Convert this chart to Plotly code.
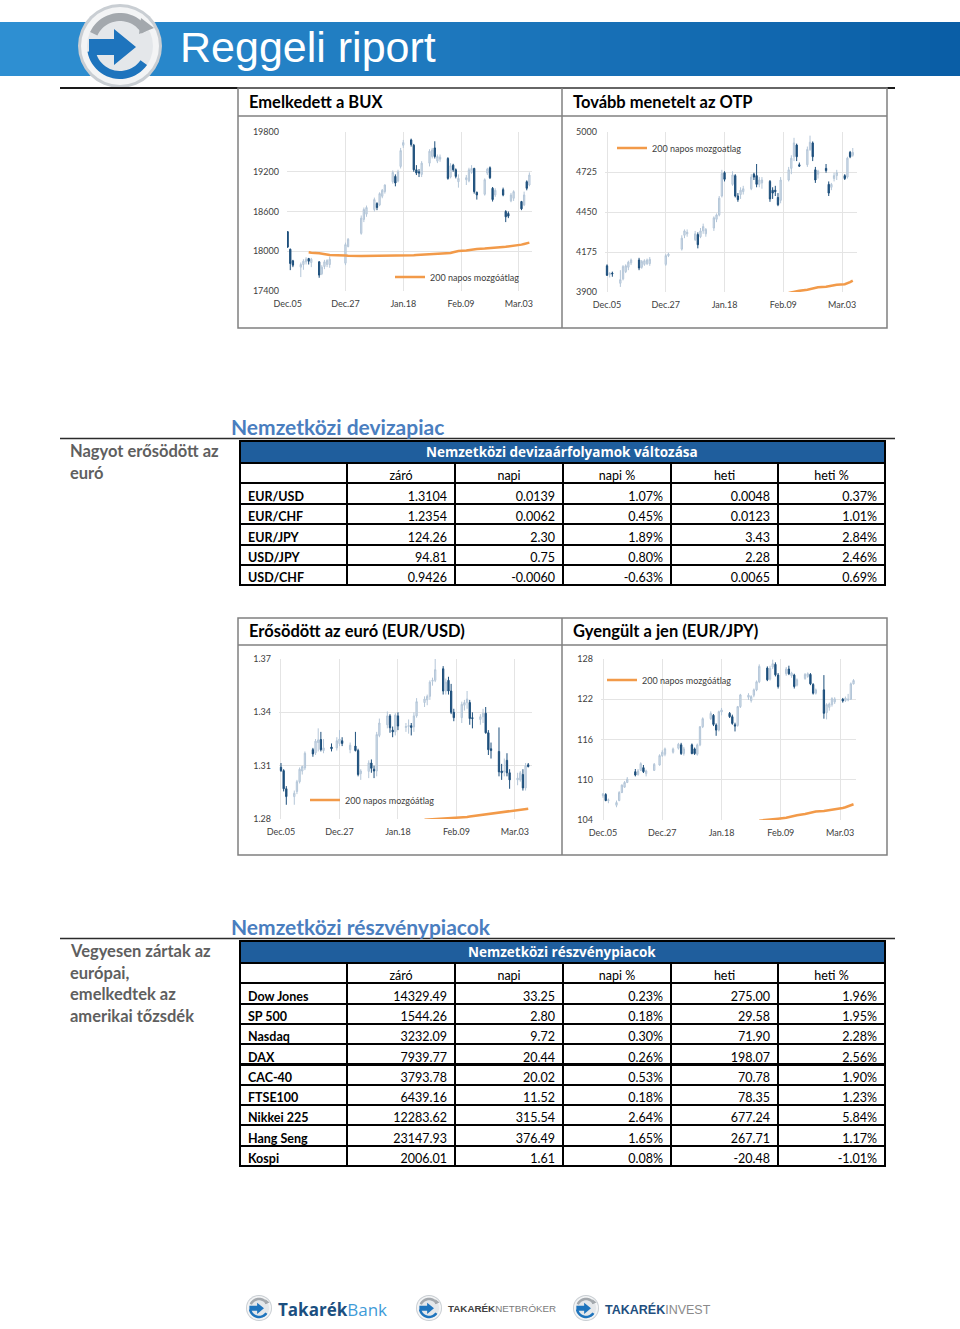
import math
import plotly.graph_objects as go

W, H = 960, 1329
FONT = "Lato, 'Open Sans', sans-serif"

# ---------------- DATA ----------------
BUX_DATES = ['2012-12-05','2012-12-06','2012-12-07','2012-12-10','2012-12-11','2012-12-12','2012-12-13','2012-12-14',
             '2012-12-17','2012-12-18','2012-12-19','2012-12-20','2012-12-21','2012-12-27','2012-12-28',
             '2013-01-02','2013-01-03','2013-01-04','2013-01-07','2013-01-08','2013-01-09','2013-01-10','2013-01-11',
             '2013-01-14','2013-01-15','2013-01-16','2013-01-17','2013-01-18','2013-01-21','2013-01-22','2013-01-23',
             '2013-01-24','2013-01-25','2013-01-28','2013-01-29','2013-01-30','2013-01-31','2013-02-01',
             '2013-02-04','2013-02-05','2013-02-06','2013-02-07','2013-02-08','2013-02-11','2013-02-12','2013-02-13',
             '2013-02-14','2013-02-15','2013-02-18','2013-02-19','2013-02-20','2013-02-21','2013-02-22',
             '2013-02-25','2013-02-26','2013-02-27','2013-02-28','2013-03-01','2013-03-04','2013-03-05','2013-03-06','2013-03-07']

FX_DATES = ['2012-12-05','2012-12-06','2012-12-07','2012-12-10','2012-12-11','2012-12-12','2012-12-13','2012-12-14',
            '2012-12-17','2012-12-18','2012-12-19','2012-12-20','2012-12-21','2012-12-24','2012-12-26','2012-12-27',
            '2012-12-28','2012-12-31',
            '2013-01-02','2013-01-03','2013-01-04','2013-01-07','2013-01-08','2013-01-09','2013-01-10','2013-01-11',
            '2013-01-14','2013-01-15','2013-01-16','2013-01-17','2013-01-18','2013-01-21','2013-01-22','2013-01-23',
            '2013-01-24','2013-01-25','2013-01-28','2013-01-29','2013-01-30','2013-01-31','2013-02-01',
            '2013-02-04','2013-02-05','2013-02-06','2013-02-07','2013-02-08','2013-02-11','2013-02-12','2013-02-13',
            '2013-02-14','2013-02-15','2013-02-18','2013-02-19','2013-02-20','2013-02-21','2013-02-22',
            '2013-02-25','2013-02-26','2013-02-27','2013-02-28','2013-03-01','2013-03-04','2013-03-05','2013-03-06',
            '2013-03-07','2013-03-08']

BUX_OPEN = [18295,18030,17855,17760,17800,17840,17890,17830,17840,17660,17770,17800,17800,17820,18070,
            18270,18480,18560,18630,18720,18700,18830,18900,19050,19130,19060,19280,19600,19680,19600,19230,
            19200,19160,19330,19430,19560,19360,19390,19400,19120,19300,19230,19050,19080,19060,19190,
            19250,18890,18860,19180,19260,18950,18850,18930,18600,18570,18760,18800,18750,18700,19050,19000]
BUX_HIGH = [18300,18040,17870,17830,17880,17910,17900,17900,17850,17790,17870,17880,17920,18130,18200,
            18540,18660,18690,18810,18740,18890,18940,19010,19220,19160,19230,19560,19680,19700,19620,19300,
            19240,19360,19540,19560,19660,19460,19460,19420,19330,19320,19250,19160,19150,19260,19300,
            19260,18900,19100,19260,19280,18970,18950,18960,18620,18600,18880,18920,18760,18900,19070,19190]
BUX_LOW = [18050,17715,17760,17610,17720,17800,17800,17760,17600,17640,17730,17760,17750,17790,18060,
           18250,18440,18520,18600,18620,18680,18800,18870,19020,18980,19040,19250,19560,19580,19200,19150,
           19120,19120,19280,19400,19400,19330,19350,19080,19100,19200,19100,18960,19000,19040,19170,
           18870,18780,18840,19150,19090,18750,18820,18830,18440,18500,18740,18760,18620,18680,18920,18980]
BUX_CLOSE = [18065,17815,17790,17800,17850,17880,17850,17880,17640,17760,17840,17860,17880,18100,18180,
             18500,18630,18660,18780,18660,18870,18920,19000,19190,19030,19200,19520,19640,19610,19230,19180,
             19180,19330,19510,19530,19430,19430,19420,19100,19290,19230,19130,19100,19110,19230,19250,
             18900,18850,19080,19240,19110,18780,18920,18850,18520,18530,18850,18900,18640,18850,18950,19150]
BUX_MA = [17985,17978,17970,17965,17955,17950,17945,17935,17932,
          17930,17930,17930,17930,17930,17930,17930,17930,17930,17930,17930,17930,17932,17935,17940,17942,17944,
          17945,17948,17955,17960,17962,17965,17970,17975,17985,17995,18005,18012,18018,18022,18030,18035,
          18040,18045,18050,18055,18060,18065,18068,18072,18080,18090,18100,18110,18120,18130]

OTP_OPEN = [4080,4020,4030,3960,3990,4040,4070,4100,4120,4070,4090,4095,4095,4090,4150,
            4195,4290,4300,4260,4295,4280,4320,4300,4340,4400,4430,4560,4720,4640,4700,4560,
            4570,4590,4610,4710,4700,4640,4650,4660,4600,4600,4550,4530,4670,4750,4830,
            4910,4775,4775,4880,4925,4740,4710,4750,4640,4620,4680,4700,4700,4690,4860,4840]
OTP_HIGH = [4090,4035,4040,4050,4085,4090,4115,4130,4135,4120,4125,4130,4140,4160,4170,
            4290,4330,4330,4320,4310,4340,4370,4340,4420,4440,4560,4740,4730,4730,4710,4580,
            4620,4630,4710,4720,4780,4690,4690,4670,4620,4630,4580,4690,4760,4840,4960,
            4920,4790,4900,4975,4935,4760,4740,4780,4660,4650,4720,4740,4710,4830,4870,4890]
OTP_LOW = [4010,4000,4005,3935,3980,4030,4050,4085,4050,4060,4080,4085,4080,4080,4140,
           4185,4270,4280,4250,4200,4270,4300,4280,4320,4380,4420,4550,4660,4630,4550,4520,
           4540,4570,4600,4670,4620,4620,4610,4520,4540,4560,4490,4510,4660,4710,4800,
           4800,4760,4760,4870,4800,4650,4680,4720,4560,4600,4660,4670,4670,4680,4820,4830]
OTP_CLOSE = [4015,4030,4025,3985,4075,4080,4105,4120,4065,4110,4115,4120,4125,4150,4160,
             4270,4320,4310,4300,4225,4320,4350,4330,4410,4430,4545,4715,4675,4705,4560,4535,
             4600,4610,4690,4690,4640,4670,4670,4540,4580,4590,4500,4670,4740,4820,4925,
             4830,4765,4880,4930,4830,4670,4730,4735,4580,4640,4700,4720,4680,4820,4830,4860]
OTP_MA = [3893,3897,3900,3903,3908,3915,3920,3925,3928,3932,3936,3940,3943,3946,3950,3954,3960,3968,3978]

EURUSD_OPEN = [1.3091,1.3072,1.2970,1.2926,1.2955,1.3010,1.3070,1.3087,1.3190,1.3172,1.3230,1.3247,1.3185,1.3205,
               1.3200,1.3225,1.3240,1.3190,1.3210,1.3185,1.3055,1.3068,1.3115,1.3080,1.3070,1.3270,1.3330,1.3380,
               1.3300,1.3290,1.3380,1.3315,1.3320,1.3325,1.3318,1.3380,1.3455,1.3470,1.3490,1.3575,1.3580,
               1.3645,1.3520,1.3580,1.3520,1.3400,1.3370,1.3440,1.3455,1.3455,1.3370,1.3360,1.3375,1.3395,1.3285,
               1.3195,1.3180,1.3070,1.3065,1.3130,1.3060,1.3020,1.3020,1.3050,1.2975,1.3105]
EURUSD_HIGH = [1.3115,1.3080,1.2985,1.2960,1.3020,1.3090,1.3100,1.3180,1.3200,1.3250,1.3310,1.3290,1.3250,1.3225,
               1.3260,1.3300,1.3260,1.3230,1.3290,1.3195,1.3080,1.3130,1.3135,1.3100,1.3290,1.3365,1.3405,1.3390,
               1.3320,1.3395,1.3400,1.3340,1.3360,1.3340,1.3400,1.3480,1.3490,1.3500,1.3580,1.3595,1.3710,
               1.3660,1.3590,1.3600,1.3560,1.3420,1.3460,1.3470,1.3520,1.3470,1.3400,1.3390,1.3420,1.3430,1.3300,
               1.3230,1.3315,1.3110,1.3140,1.3170,1.3080,1.3060,1.3070,1.3080,1.3115,1.3115]
EURUSD_LOW = [1.3065,1.2955,1.2880,1.2880,1.2940,1.3000,1.3050,1.3075,1.3150,1.3160,1.3180,1.3180,1.3170,1.3180,
              1.3185,1.3210,1.3210,1.3170,1.3180,1.3040,1.3020,1.3030,1.3060,1.3030,1.3040,1.3260,1.3310,1.3285,
              1.3260,1.3270,1.3300,1.3290,1.3280,1.3270,1.3290,1.3370,1.3430,1.3440,1.3470,1.3550,1.3570,
              1.3500,1.3500,1.3500,1.3390,1.3350,1.3340,1.3410,1.3420,1.3330,1.3310,1.3330,1.3340,1.3280,1.3160,
              1.3140,1.3040,1.3020,1.3040,1.3040,1.2970,1.2990,1.3010,1.2960,1.2960,1.3090]
EURUSD_CLOSE = [1.3072,1.2970,1.2926,1.2945,1.3010,1.3080,1.3095,1.3170,1.3166,1.3238,1.3245,1.3190,1.3200,1.3195,
                1.3240,1.3250,1.3225,1.3215,1.3185,1.3050,1.3070,1.3115,1.3085,1.3070,1.3275,1.3340,1.3380,1.3313,
                1.3290,1.3385,1.3323,1.3320,1.3325,1.3315,1.3380,1.3460,1.3475,1.3490,1.3570,1.3580,1.3640,
                1.3520,1.3570,1.3520,1.3400,1.3370,1.3445,1.3455,1.3475,1.3365,1.3365,1.3375,1.3395,1.3285,1.3190,
                1.3185,1.3065,1.3060,1.3070,1.3060,1.3020,1.3030,1.3060,1.2975,1.3100,1.3095]
EURUSD_MA = [1.2796,1.2797,1.2798,1.2799,1.2800,1.2801,1.2802,1.2803,1.2804,1.2805,1.2806,1.2809,1.2811,1.2814,
             1.2816,1.2821,1.2823,1.2825,1.2827,1.2829,1.2834,1.2836,1.2838,1.2840,1.2842,1.2846,1.2848,1.2851,
             1.2855,1.2858]

EURJPY_OPEN = [107.6,107.8,106.9,106.2,106.9,108.1,108.9,109.6,111.2,110.8,111.4,111.8,110.9,111.4,112.2,113.6,
               113.8,114.1,114.7,115.2,113.9,115.2,114.6,113.8,115.2,117.9,119.1,119.6,118.15,117.4,120.1,
               119.9,119.4,118.2,118.1,120.9,122.3,121.8,122.6,123.4,124.6,126.65,125.0,126.8,127.2,125.6,
               125.8,126.5,125.5,125.6,124.1,125.1,125.4,125.7,124.2,122.9,123.4,120.0,120.8,121.2,121.6,
               122.0,121.8,121.9,122.0,124.3]
EURJPY_HIGH = [108.0,108.0,107.2,106.9,108.3,109.3,109.8,110.4,111.6,111.6,112.6,112.2,111.5,112.5,113.8,114.4,
               114.8,114.8,115.5,115.5,114.9,115.4,114.8,115.4,118.0,119.3,120.2,119.8,118.4,120.3,120.7,
               120.1,119.7,118.5,121.0,122.8,122.9,122.6,123.6,124.8,127.2,126.9,127.0,127.9,127.5,125.9,
               126.8,127.0,126.1,125.8,125.1,125.9,126.0,125.9,124.4,123.6,125.6,121.4,121.5,122.3,122.3,
               122.2,122.4,122.8,124.5,125.0]
EURJPY_LOW = [107.3,106.8,106.5,105.9,106.8,108.0,108.8,109.5,110.5,110.6,111.3,111.0,110.5,111.3,112.1,113.4,
              113.5,113.9,114.5,113.7,113.6,113.8,113.7,113.6,115.0,117.7,118.9,118.0,116.55,117.2,119.6,
              119.2,118.2,117.2,117.9,120.7,121.9,121.5,122.3,123.2,124.4,124.7,124.8,126.5,125.4,123.6,
              125.5,125.6,125.2,123.6,123.9,124.9,125.2,124.1,122.7,122.7,119.1,119.0,120.3,120.9,121.3,
              121.5,121.6,121.7,121.9,124.2]
EURJPY_CLOSE = [107.9,106.9,107.0,106.6,108.1,109.2,109.6,110.1,110.7,111.3,112.4,111.2,111.3,112.3,113.6,114.1,
                114.6,114.6,115.3,113.9,114.6,113.9,113.9,115.2,117.9,119.1,119.9,118.25,117.4,120.15,120.4,
                119.4,118.4,118.0,120.9,122.65,122.6,122.4,123.4,124.6,126.9,124.9,126.6,127.3,125.65,123.9,
                126.5,125.8,125.9,123.9,124.9,125.7,125.8,124.3,122.9,123.4,119.9,121.2,121.3,122.1,122.05,
                121.75,122.15,122.0,124.3,124.8]
EURJPY_MA = [103.9,104.0,104.05,104.1,104.15,104.2,104.35,104.45,104.55,104.65,104.7,104.9,105.0,105.1,105.2,
             105.25,105.35,105.4,105.5,105.55,105.6,105.8,105.9,106.0,106.2,106.35]

DATE_TICKS = ['2012-12-05', '2012-12-27', '2013-01-18', '2013-02-09', '2013-03-03']
DATE_TICK_TEXT = ['Dec.05', 'Dec.27', 'Jan.18', 'Feb.09', 'Mar.03']
BUX_TICKS = [17400, 18000, 18600, 19200, 19800]
OTP_TICKS = [3900, 4175, 4450, 4725, 5000]
EURUSD_TICKS = [1.28, 1.31, 1.34, 1.37]
EURJPY_TICKS = [104, 110, 116, 122, 128]

FX_HEADER = ['', 'záró', 'napi', 'napi %', 'heti', 'heti %']
FX_NAMES = ['EUR/USD', 'EUR/CHF', 'EUR/JPY', 'USD/JPY', 'USD/CHF']
FX_ZARO = ['1.3104', '1.2354', '124.26', '94.81', '0.9426']
FX_NAPI = ['0.0139', '0.0062', '2.30', '0.75', '-0.0060']
FX_NAPI_PCT = ['1.07%', '0.45%', '1.89%', '0.80%', '-0.63%']
FX_HETI = ['0.0048', '0.0123', '3.43', '2.28', '0.0065']
FX_HETI_PCT = ['0.37%', '1.01%', '2.84%', '2.46%', '0.69%']

EQ_NAMES = ['Dow Jones', 'SP 500', 'Nasdaq', 'DAX', 'CAC-40', 'FTSE100', 'Nikkei 225', 'Hang Seng', 'Kospi']
EQ_ZARO = ['14329.49', '1544.26', '3232.09', '7939.77', '3793.78', '6439.16', '12283.62', '23147.93', '2006.01']
EQ_NAPI = ['33.25', '2.80', '9.72', '20.44', '20.02', '11.52', '315.54', '376.49', '1.61']
EQ_NAPI_PCT = ['0.23%', '0.18%', '0.30%', '0.26%', '0.53%', '0.18%', '2.64%', '1.65%', '0.08%']
EQ_HETI = ['275.00', '29.58', '71.90', '198.07', '70.78', '78.35', '677.24', '267.71', '-20.48']
EQ_HETI_PCT = ['1.96%', '1.95%', '2.28%', '2.56%', '1.90%', '1.23%', '5.84%', '1.17%', '-1.01%']

# ---------------- helpers ----------------
def X(px): return px / W
def Y(py): return 1 - py / H

shapes, annos = [], []

def rect(x0, y0, x1, y1, fill='rgba(0,0,0,0)', color='rgba(0,0,0,0)', width=0, layer='above'):
    shapes.append(dict(type='rect', xref='paper', yref='paper', x0=X(x0), x1=X(x1), y0=Y(y1), y1=Y(y0),
                       fillcolor=fill, line=dict(color=color, width=width), layer=layer))

def hline(x0, x1, y, color, width):
    shapes.append(dict(type='line', xref='paper', yref='paper', x0=X(x0), x1=X(x1), y0=Y(y), y1=Y(y),
                       line=dict(color=color, width=width)))

def vline(x, y0, y1, color, width):
    shapes.append(dict(type='line', xref='paper', yref='paper', x0=X(x), x1=X(x), y0=Y(y0), y1=Y(y1),
                       line=dict(color=color, width=width)))

def circle(cx, cy, r, fill, color='rgba(0,0,0,0)', width=0):
    shapes.append(dict(type='circle', xref='paper', yref='paper', x0=X(cx - r), x1=X(cx + r),
                       y0=Y(cy + r), y1=Y(cy - r), fillcolor=fill, line=dict(color=color, width=width)))

def poly(pts, fill):
    d = 'M ' + ' L '.join(f'{X(a):.5f},{Y(b):.5f}' for a, b in pts) + ' Z'
    shapes.append(dict(type='path', xref='paper', yref='paper', path=d, fillcolor=fill,
                       line=dict(width=0)))

def arc(cx, cy, r0, r1, a0, a1, fill, n=24):
    outer = [(cx + r1 * math.cos(math.radians(a0 + (a1 - a0) * i / n)),
              cy + r1 * math.sin(math.radians(a0 + (a1 - a0) * i / n))) for i in range(n + 1)]
    inner = [(cx + r0 * math.cos(math.radians(a1 - (a1 - a0) * i / n)),
              cy + r0 * math.sin(math.radians(a1 - (a1 - a0) * i / n))) for i in range(n + 1)]
    poly(outer + inner, fill)

def text(x, y, s, size, color='#000000', xanchor='left', family=FONT, bold=False):
    if bold:
        s = '<b>' + s + '</b>'
    annos.append(dict(xref='paper', yref='paper', x=X(x), y=Y(y), text=s, showarrow=False,
                      xanchor=xanchor, yanchor='middle', font=dict(size=size, color=color, family=family)))

def logo(cx, cy, s):
    circle(cx, cy, 42 * s, '#c9ced3')
    circle(cx, cy, 39 * s, '#f3f4f5')
    circle(cx, cy, 33 * s, '#e4e7ea')
    arc(cx, cy, 25 * s, 33 * s, 35, 170, '#1e74bd')
    arc(cx, cy, 25 * s, 33 * s, 205, 330, '#a3a8ad')
    poly([(cx + 21 * s, cy - 28 * s), (cx + 34 * s, cy - 18 * s), (cx + 19 * s, cy - 12 * s)], '#a3a8ad')
    poly([(cx - 31 * s, cy - 7 * s), (cx - 6 * s, cy - 7 * s), (cx - 6 * s, cy - 17 * s), (cx + 16 * s, cy + 1 * s),
          (cx - 6 * s, cy + 19 * s), (cx - 6 * s, cy + 9 * s), (cx - 31 * s, cy + 9 * s)], '#1e74bd')

# ---------------- banner ----------------
n = 32
c0, c1 = (46, 143, 210), (10, 94, 166)
for i in range(n):
    t = i / (n - 1)
    col = 'rgb(%d,%d,%d)' % tuple(round(c0[k] + (c1[k] - c0[k]) * t) for k in range(3))
    rect(i * W / n, 22, (i + 1) * W / n + 1, 76, fill=col, layer='below')
logo(120, 46, 1.0)
text(178, 47, 'Reggeli riport', 43, '#ffffff', family="'Liberation Sans', Arial, sans-serif")

# ---------------- chart boxes ----------------
hline(60, 895, 88, '#1a1a1a', 2)
BOX = '#808080'
for top, mid, bot in [(88, 116, 328), (618, 645, 855)]:
    rect(238, top, 887, bot, color=BOX, width=1.5)
    vline(562, top, bot, BOX, 1.5)
    hline(238, 887, mid, BOX, 1.5)
text(247, 102, 'Emelkedett a BUX', 16.5, '#000000', bold=True)
text(571, 102, 'Tovább menetelt az OTP', 16.5, '#000000', bold=True)
text(247, 631, 'Erősödött az euró (EUR/USD)', 16.5, '#000000', bold=True)
text(571, 631, 'Gyengült a jen (EUR/JPY)', 16.5, '#000000', bold=True)

# ---------------- section headings ----------------
HEAD = '#4a7ebf'
SIDE = '#5f5f5f'
text(229, 426, 'Nemzetközi devizapiac', 21, HEAD, bold=True)
hline(60, 895, 438.5, '#2b2b2b', 1.5)
for i, s in enumerate(['Nagyot erősödött az', 'euró']):
    text(68, 451 + 22 * i, s, 16.5, SIDE, bold=True)

text(229, 926, 'Nemzetközi részvénypiacok', 21, HEAD, bold=True)
hline(60, 895, 938.5, '#2b2b2b', 1.5)
for i, s in enumerate(['Vegyesen zártak az', 'európai,', 'emelkedtek az', 'amerikai tőzsdék']):
    text(68, 951 + 21.7 * i, s, 16.5, SIDE, bold=True)

BAR = '#1f5e9d'
BARFONT = "'Open Sans', Lato, sans-serif"
rect(240, 441, 885, 463, fill=BAR, color='#000000', width=2)
text(562, 452, 'Nemzetközi devizaárfolyamok változása', 13.5, '#ffffff', xanchor='center', bold=True,
     family=BARFONT)
rect(240, 941, 885, 963, fill=BAR, color='#000000', width=2)
text(562, 952, 'Nemzetközi részvénypiacok', 13.5, '#ffffff', xanchor='center', bold=True, family=BARFONT)

# ---------------- footer logos ----------------
logo(259, 1308, 0.31)
text(276, 1309, "<b>Takarék</b><span style='color:#3f9bd8'>Bank</span>", 17, '#1b4f80',
     family="'Open Sans', sans-serif")
logo(429, 1308, 0.31)
text(446, 1308, "<b>TAKARÉK</b><span style='color:#7a7a7a'>NETBRÓKER</span>", 9.8, '#404040',
     family="'Liberation Sans', sans-serif")
logo(586, 1308, 0.31)
text(603, 1309, "<b>TAKARÉK</b><span style='color:#8a8a8a'>INVEST</span>", 12.5, '#1f4f7f',
     family="'Liberation Sans', sans-serif")

# ---------------- figure ----------------
fig = go.Figure()
UP_LINE, UP_FILL = '#b4c6d8', '#d6e1ec'
DN_LINE, DN_FILL = '#1d4f7c', '#1d4f7c'
MA_COL = '#f29a49'

charts = [
    ('', BUX_DATES, BUX_OPEN, BUX_HIGH, BUX_LOW, BUX_CLOSE, BUX_MA, '200 napos mozgóátlag', 'legend'),
    ('2', BUX_DATES, OTP_OPEN, OTP_HIGH, OTP_LOW, OTP_CLOSE, OTP_MA, '200 napos mozgoatlag', 'legend2'),
    ('3', FX_DATES, EURUSD_OPEN, EURUSD_HIGH, EURUSD_LOW, EURUSD_CLOSE, EURUSD_MA, '200 napos mozgóátlag', 'legend3'),
    ('4', FX_DATES, EURJPY_OPEN, EURJPY_HIGH, EURJPY_LOW, EURJPY_CLOSE, EURJPY_MA, '200 napos mozgóátlag', 'legend4'),
]
for k, d, o, h, l, c, ma, name, lg in charts:
    fig.add_trace(go.Candlestick(x=d, open=o, high=h, low=l, close=c, xaxis='x' + k, yaxis='y' + k,
                                 increasing=dict(line=dict(color=UP_LINE, width=1), fillcolor=UP_FILL),
                                 decreasing=dict(line=dict(color=DN_LINE, width=1), fillcolor=DN_FILL),
                                 whiskerwidth=0, showlegend=False, hoverinfo='skip'))
    fig.add_trace(go.Scatter(x=d[-len(ma):], y=ma, mode='lines', xaxis='x' + k, yaxis='y' + k,
                             line=dict(color=MA_COL, width=2.5), name=name, legend=lg, hoverinfo='skip'))

# tables
def table(names, cols, top, bottom, rowh):
    fig.add_trace(go.Table(
        domain=dict(x=[X(240), X(885)], y=[Y(bottom), Y(top)]),
        columnwidth=[107, 108, 108, 108, 107, 107],
        header=dict(values=FX_HEADER, height=rowh, align='center', fill_color='#ffffff',
                    line=dict(color='#000000', width=2), font=dict(family=FONT, size=12.5, color='#000000')),
        cells=dict(values=[names] + cols, height=rowh,
                   align=['left', 'right', 'right', 'right', 'right', 'right'], fill_color='#ffffff',
                   line=dict(color='#000000', width=2),
                   font=dict(family=FONT, size=12.5, color='#000000',
                             weight=['bold', 'normal', 'normal', 'normal', 'normal', 'normal']))))

table(FX_NAMES, [FX_ZARO, FX_NAPI, FX_NAPI_PCT, FX_HETI, FX_HETI_PCT], 463, 600, 20.4)
table(EQ_NAMES, [EQ_ZARO, EQ_NAPI, EQ_NAPI_PCT, EQ_HETI, EQ_HETI_PCT], 963, 1190, 20.3)

GRID = '#e4e4e4'
TICKF = dict(family=FONT, size=9, color='#404040')
axes = [
    ('', [287, 532], [132, 291], ['2012-12-04 18:00', '2013-03-08 00:00'], [17400, 19800], BUX_TICKS, 'd'),
    ('2', [605, 857], [132, 292], ['2012-12-04 06:00', '2013-03-08 14:00'], [3900, 5000], OTP_TICKS, 'd'),
    ('3', [279, 532], [659, 819], ['2012-12-04 06:00', '2013-03-09 10:00'], [1.28, 1.37], EURUSD_TICKS, '.2f'),
    ('4', [601, 856], [659, 820], ['2012-12-04 06:00', '2013-03-08 22:00'], [104, 128], EURJPY_TICKS, 'd'),
]
lay = {}
for k, xd, yd, xr, yr, yt, fmt in axes:
    lay['xaxis' + k] = dict(domain=[X(xd[0]), X(xd[1])], anchor='y' + k, type='date', range=xr,
                            tickvals=DATE_TICKS, ticktext=DATE_TICK_TEXT, showgrid=True, gridcolor=GRID,
                            gridwidth=1, zeroline=False, showline=False, ticks='', tickfont=TICKF,
                            rangeslider=dict(visible=False), ticklabelstandoff=6, fixedrange=True,
                            automargin=False)
    lay['yaxis' + k] = dict(domain=[Y(yd[1]), Y(yd[0])], anchor='x' + k, range=yr, tickvals=yt, showgrid=True,
                            gridcolor=GRID, gridwidth=1, zeroline=False, showline=False, ticks='',
                            tickfont=TICKF, ticklabelstandoff=7, fixedrange=True, tickformat=fmt,
                            automargin=False)

LEGF = dict(family=FONT, size=9, color='#404040')
for name, lx, ly in [('legend', 390, 277), ('legend2', 612, 148), ('legend3', 305, 800), ('legend4', 602, 680)]:
    lay[name] = dict(x=X(lx), y=Y(ly), xanchor='left', yanchor='middle', bgcolor='rgba(0,0,0,0)',
                     font=LEGF, borderwidth=0, itemwidth=30)

fig.update_layout(width=W, height=H, margin=dict(l=0, r=0, t=0, b=0, pad=0, autoexpand=False),
                  paper_bgcolor='#ffffff', plot_bgcolor='#ffffff', shapes=shapes, annotations=annos,
                  showlegend=True, **lay)
fig.write_html('out.html', config={'displayModeBar': False},
               post_script="document.body.style.margin='0';document.body.style.overflow='hidden';")
